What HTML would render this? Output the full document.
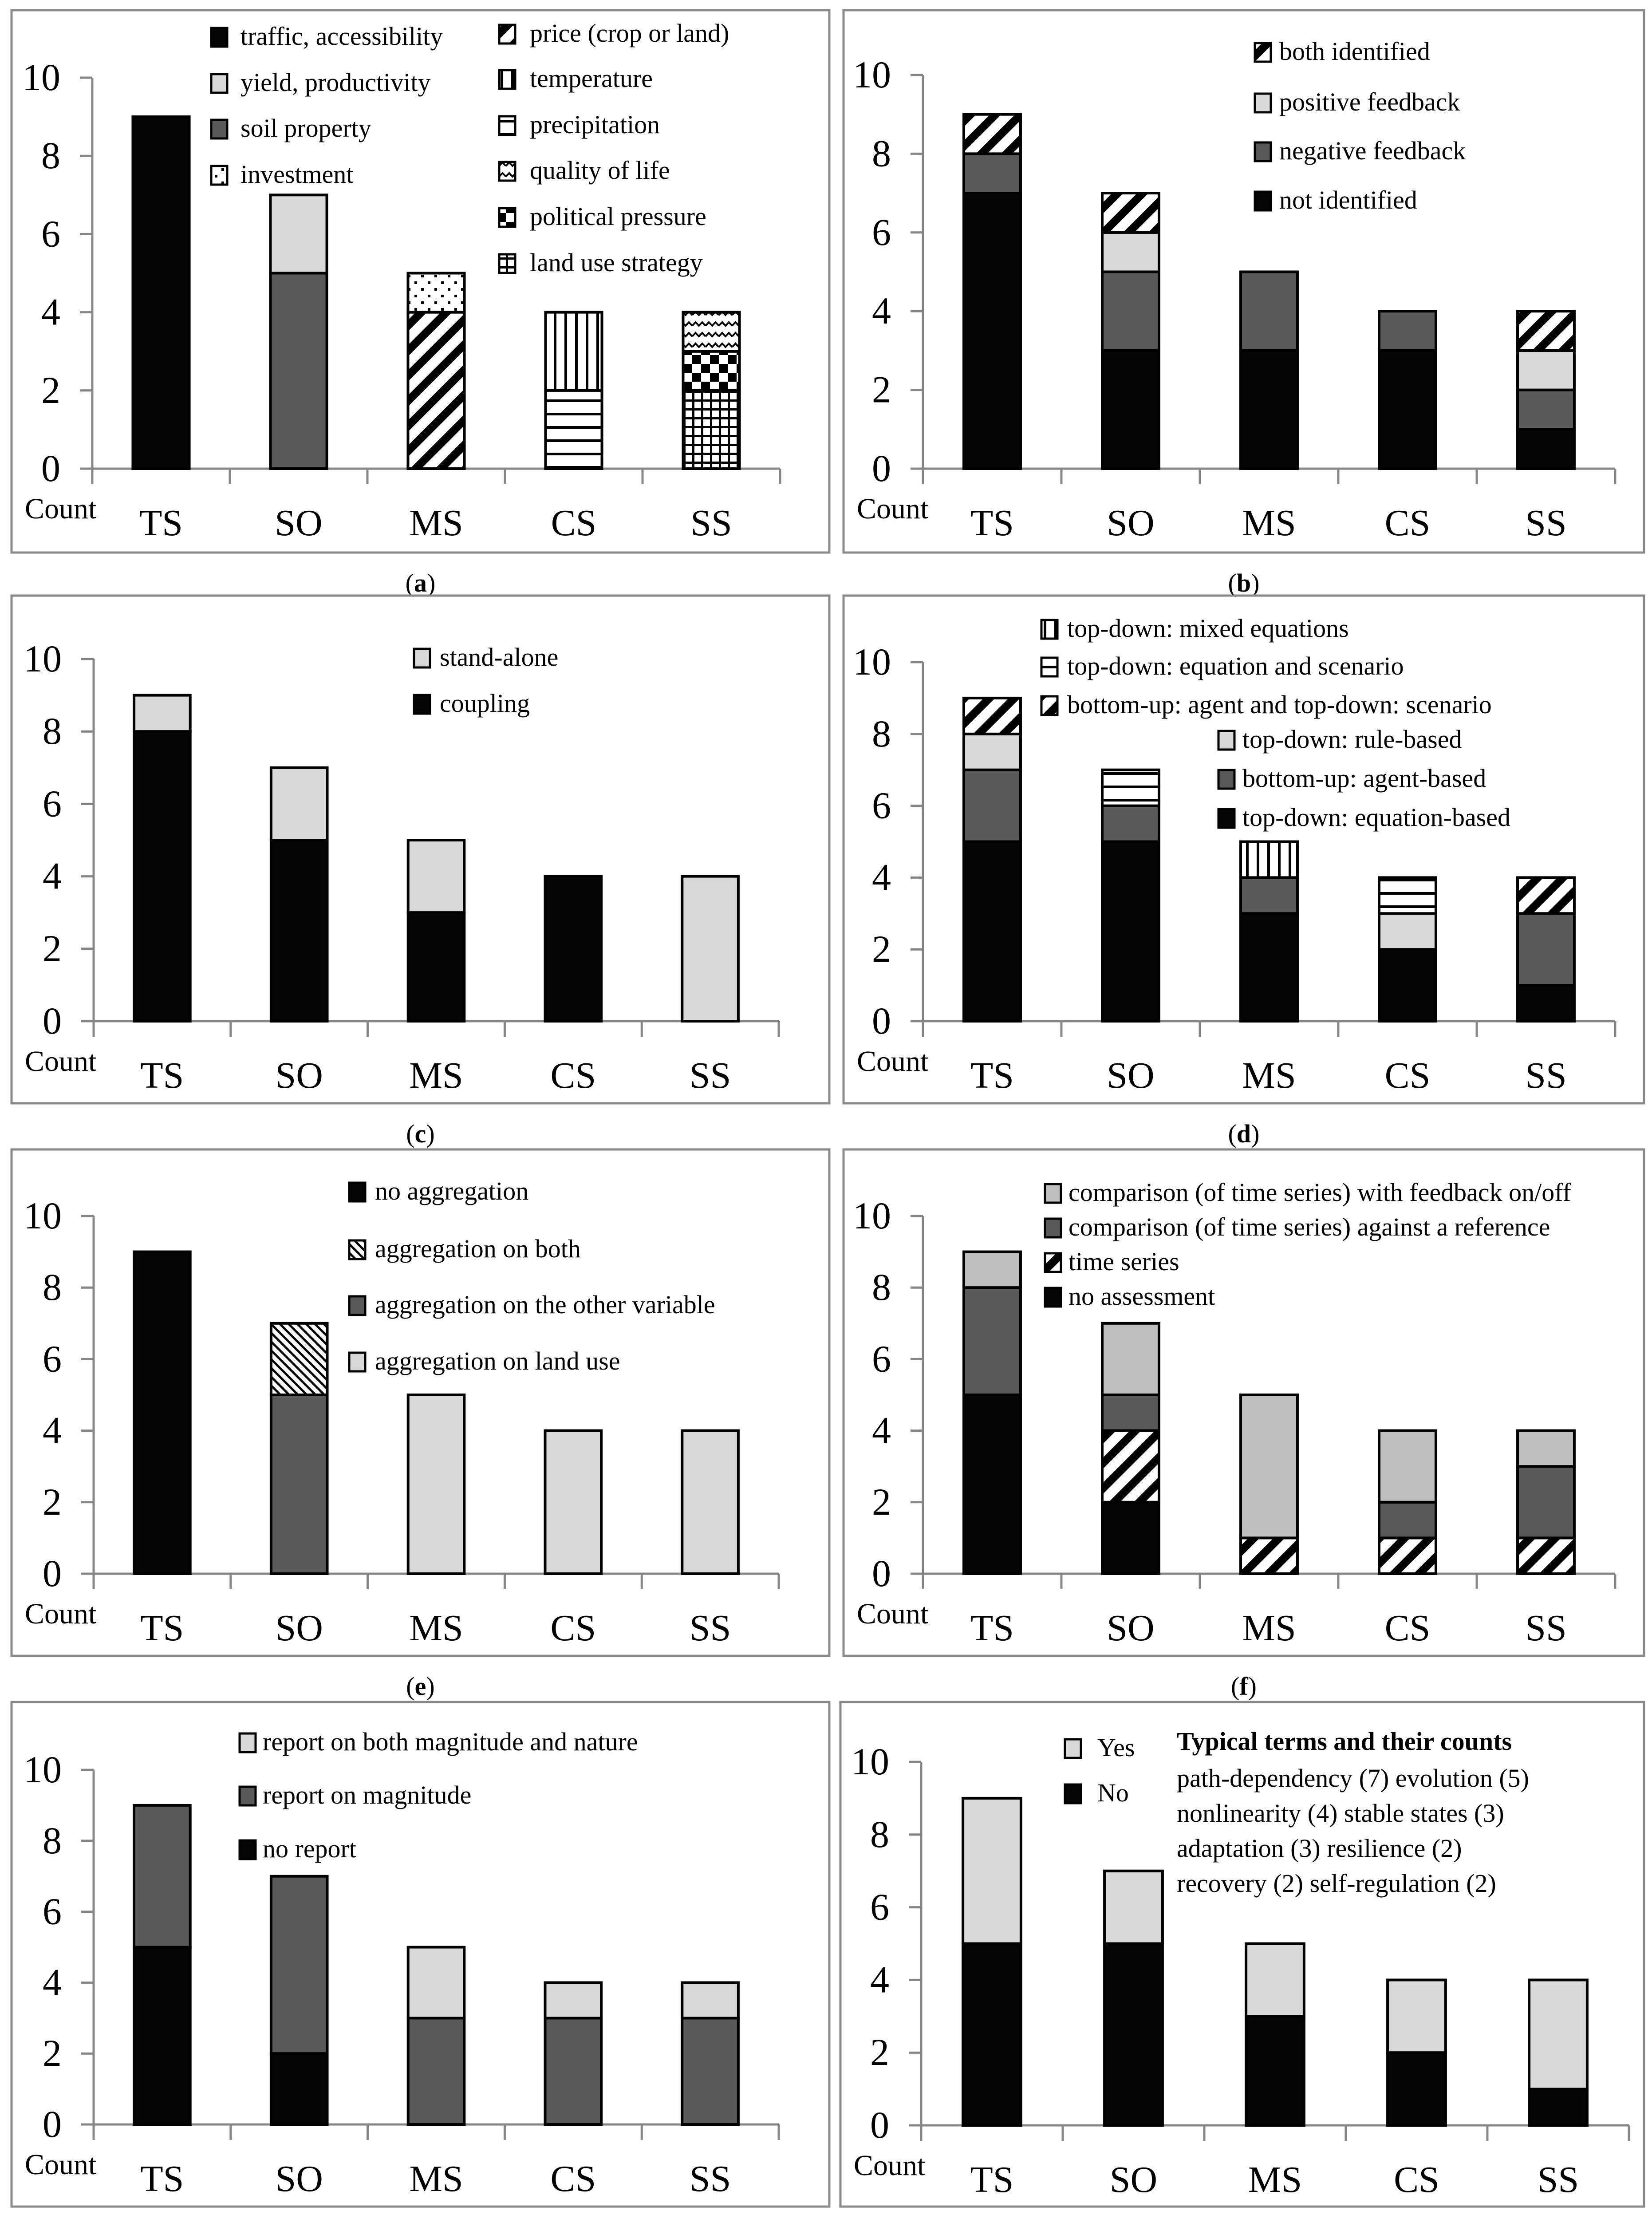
<!DOCTYPE html>
<html><head><meta charset="utf-8"><style>
html,body{margin:0;padding:0;background:#fff;width:3723px;height:5085px;overflow:hidden}
svg{display:block}
text{font-family:"Liberation Serif",serif;fill:#000}
</style></head><body>
<svg id="fig" width="3723" height="5085" viewBox="0 0 3723 5085" xmlns="http://www.w3.org/2000/svg">
<defs>
<pattern id="p-diag" patternUnits="userSpaceOnUse" width="40" height="40" patternTransform="rotate(45)"><rect width="40" height="40" fill="#fff"/><rect width="18" height="40" fill="#000"/></pattern>
<pattern id="p-vert" patternUnits="userSpaceOnUse" width="24" height="24"><rect width="24" height="24" fill="#fff"/><rect width="6" height="24" fill="#000"/></pattern>
<pattern id="p-horiz" patternUnits="userSpaceOnUse" width="30" height="30"><rect width="30" height="30" fill="#fff"/><rect width="30" height="6" fill="#000"/></pattern>
<pattern id="p-dots" patternUnits="userSpaceOnUse" width="30" height="30"><rect width="30" height="30" fill="#fff"/><rect x="4" y="4" width="6" height="6" fill="#000"/><rect x="19" y="19" width="6" height="6" fill="#000"/></pattern>
<pattern id="p-wave" patternUnits="userSpaceOnUse" width="30" height="24"><rect width="30" height="24" fill="#fff"/><path d="M0 14 L7.5 6 L15 14 L22.5 6 L30 14" stroke="#000" stroke-width="4" fill="none"/></pattern>
<pattern id="p-check" patternUnits="userSpaceOnUse" width="40" height="40"><rect width="40" height="40" fill="#fff"/><rect width="20" height="20" fill="#000"/><rect x="20" y="20" width="20" height="20" fill="#000"/></pattern>
<pattern id="p-grid" patternUnits="userSpaceOnUse" width="20" height="20"><rect width="20" height="20" fill="#fff"/><rect width="5" height="20" fill="#000"/><rect width="20" height="5" fill="#000"/></pattern>
<pattern id="p-hatch" patternUnits="userSpaceOnUse" width="14" height="14" patternTransform="rotate(-45)"><rect width="14" height="14" fill="#fff"/><rect width="5" height="14" fill="#000"/></pattern>
</defs>
</svg>
<script>
const NS="http://www.w3.org/2000/svg";
const svg=document.getElementById('fig');
const categories=["TS","SO","MS","CS","SS"];
const yTicks=[0,2,4,6,8,10];
// series values per panel (stack order bottom->top)
const aTraffic=[9,0,0,0,0];
const aSoil=[0,5,0,0,0];
const aYield=[0,2,0,0,0];
const aPrice=[0,0,4,0,0];
const aInvest=[0,0,1,0,0];
const aPrecip=[0,0,0,2,0];
const aTemp=[0,0,0,2,0];
const aLandUse=[0,0,0,0,2];
const aPolitical=[0,0,0,0,1];
const aQuality=[0,0,0,0,1];
const bNot=[7,3,3,3,1];
const bNeg=[1,2,2,1,1];
const bPos=[0,1,0,0,1];
const bBoth=[1,1,0,0,1];
const cCoupling=[8,5,3,4,0];
const cStand=[1,2,2,0,4];
const dEq=[5,5,3,2,1];
const dAgent=[2,1,1,0,2];
const dRule=[1,0,0,1,0];
const dBuTd=[1,0,0,0,1];
const dEqScen=[0,1,0,1,0];
const dMixed=[0,0,1,0,0];
const eNone=[9,0,0,0,0];
const eOther=[0,5,0,0,0];
const eBoth=[0,2,0,0,0];
const eLand=[0,0,5,4,4];
const fNone=[5,2,0,0,0];
const fTs=[0,2,1,1,1];
const fRef=[3,1,0,1,2];
const fOnOff=[1,2,4,2,1];
const gNone=[5,2,0,0,0];
const gMag=[4,5,3,3,3];
const gBoth=[0,0,2,1,1];
const hNo=[5,5,3,2,1];
const hYes=[4,2,2,2,3];

const BLACK="#050505",LG="#d9d9d9",DG="#595959",MG="#bfbfbf";
function el(tag,attrs,parent){const e=document.createElementNS(NS,tag);for(const k in attrs)e.setAttribute(k,attrs[k]);(parent||svg).appendChild(e);return e;}
function txt(s,x,y,size,parent,anchor,weight){const t=el('text',{x:x,y:y,'font-size':size,'text-anchor':anchor||'start','font-weight':weight||'normal'},parent);t.textContent=s;return t;}

const panels=[
 {id:'a',fx:26,fy:23,fw:1843,fh:1222,ax:208,axEnd:1758,y0:1056,y10:175,
  series:[[aTraffic,BLACK],[aSoil,DG],[aYield,LG],[aPrice,'url(#p-diag)'],[aInvest,'url(#p-dots)'],[aPrecip,'url(#p-horiz)'],[aTemp,'url(#p-vert)'],[aLandUse,'url(#p-grid)'],[aPolitical,'url(#p-check)'],[aQuality,'url(#p-wave)']],
  legend:[[476,542,83,"traffic, accessibility",BLACK],[476,542,187,"yield, productivity",LG],[476,542,290,"soil property",DG],[476,542,394,"investment",'url(#p-dots)'],
   [1125,1194,76,"price (crop or land)",'url(#p-diag)'],[1125,1194,178,"temperature",'url(#p-vert)'],[1125,1194,282,"precipitation",'url(#p-horiz)'],[1125,1194,385,"quality of life",'url(#p-wave)'],[1125,1194,489,"political pressure",'url(#p-check)'],[1125,1194,593,"land use strategy",'url(#p-grid)']]},
 {id:'b',fx:1901,fy:23,fw:1804,fh:1222,ax:2080,axEnd:3640,y0:1056,y10:169,
  series:[[bNot,BLACK],[bNeg,DG],[bPos,LG],[bBoth,'url(#p-diag)']],
  legend:[[2828,2883,117,"both identified",'url(#p-diag)'],[2828,2883,231,"positive feedback",LG],[2828,2883,341,"negative feedback",DG],[2828,2883,452,"not identified",BLACK]]},
 {id:'c',fx:26,fy:1342,fw:1843,fh:1144,ax:211,axEnd:1755,y0:2301,y10:1485,
  series:[[cCoupling,BLACK],[cStand,LG]],
  legend:[[933,991,1482,"stand-alone",LG],[933,991,1586,"coupling",BLACK]]},
 {id:'d',fx:1901,fy:1342,fw:1804,fh:1144,ax:2080,axEnd:3640,y0:2301,y10:1492,
  series:[[dEq,BLACK],[dAgent,DG],[dRule,LG],[dBuTd,'url(#p-diag)'],[dEqScen,'url(#p-horiz)'],[dMixed,'url(#p-vert)']],
  legend:[[2347,2405,1417,"top-down: mixed equations",'url(#p-vert)'],[2347,2405,1502,"top-down: equation and scenario",'url(#p-horiz)'],[2347,2405,1589,"bottom-up: agent and top-down: scenario",'url(#p-diag)'],[2746,2800,1667,"top-down: rule-based",LG],[2746,2800,1755,"bottom-up: agent-based",DG],[2746,2800,1843,"top-down: equation-based",BLACK]]},
 {id:'e',fx:26,fy:2590,fw:1843,fh:1141,ax:211,axEnd:1755,y0:3546,y10:2740,
  series:[[eNone,BLACK],[eOther,DG],[eBoth,'url(#p-hatch)'],[eLand,LG]],
  legend:[[787,845,2685,"no aggregation",BLACK],[787,845,2815,"aggregation on both",'url(#p-hatch)'],[787,845,2941,"aggregation on the other variable",DG],[787,845,3068,"aggregation on land use",LG]]},
 {id:'f',fx:1901,fy:2590,fw:1804,fh:1141,ax:2080,axEnd:3640,y0:3546,y10:2740,
  series:[[fNone,BLACK],[fTs,'url(#p-diag)'],[fRef,DG],[fOnOff,MG]],
  legend:[[2355,2408,2688,"comparison (of time series) with feedback on/off",MG],[2355,2408,2766,"comparison (of time series) against a reference",DG],[2355,2408,2844,"time series",'url(#p-diag)'],[2355,2408,2922,"no assessment",BLACK]]},
 {id:'g',fx:26,fy:3835,fw:1843,fh:1137,ax:211,axEnd:1755,y0:4787,y10:3988,
  series:[[gNone,BLACK],[gMag,DG],[gBoth,LG]],
  legend:[[540,592,3926,"report on both magnitude and nature",LG],[540,592,4046,"report on magnitude",DG],[540,592,4167,"no report",BLACK]]},
 {id:'h',fx:1894,fy:3835,fw:1811,fh:1137,ax:2076,axEnd:3671,y0:4789,y10:3970,
  series:[[hNo,BLACK],[hYes,LG]],
  legend:[[2400,2473,3939,"Yes",LG],[2400,2473,4041,"No",BLACK]]}
];

panels.forEach(p=>{
  const g=el('g',{});
  
  
  const fr=el('rect',{x:p.fx,y:p.fy,width:p.fw,height:p.fh,fill:'none',stroke:'#8a8a8a','stroke-width':5},g);
  
  
  const ys=v=>p.y0-(p.y0-p.y10)*v/10;
  const step=(p.axEnd-p.ax)/categories.length;
  const xc=i=>p.ax+step*(i+0.5);
  const bw=step*0.41;
  const ya=el('line',{x1:p.ax,y1:p.y10,x2:p.ax,y2:p.y0+30,stroke:'#868686','stroke-width':5},g);
  
  
  yTicks.forEach(t=>{
    el('line',{x1:p.ax-28,y1:ys(t),x2:p.ax,y2:ys(t),stroke:'#868686','stroke-width':5},g);
    const tl=txt(String(t),p.ax-72,ys(t)+28,86,g,'end');
    
    
  });
  const xa=el('line',{x1:p.ax-28,y1:p.y0,x2:p.axEnd,y2:p.y0,stroke:'#868686','stroke-width':5},g);
  
  
  for(let i=0;i<=categories.length;i++){
    el('line',{x1:p.ax+step*i,y1:p.y0,x2:p.ax+step*i,y2:p.y0+35,stroke:'#868686','stroke-width':5},g);
  }
  categories.forEach((c,i)=>{
    const cl=txt(c,xc(i),p.y0+150,84,g,'middle');
    
    
  });
  const cnt=txt("Count",p.fx+30,p.y0+112,66,g);
  
  
  categories.forEach((c,i)=>{
    let base=0;
    p.series.forEach(([arr,fill])=>{
      const v=arr[i]; if(!v) return;
      const r=el('rect',{x:xc(i)-bw/2,y:ys(base+v),width:bw,height:ys(base)-ys(base+v),fill:fill,stroke:'#000','stroke-width':6},g);
      
      
      base+=v;
    });
  });
  p.legend.forEach(([sx,tx,cy,label,fill])=>{
    const lg=el('g',{},g);
    
    
    el('rect',{x:sx,y:cy-20,width:36,height:42,fill:fill,stroke:'#000','stroke-width':5},lg);
    txt(label,tx,cy+18,58,lg);
  });
  const pl=el('text',{x:p.fx+p.fw/2,y:p.fy+p.fh+88,'font-size':58,'text-anchor':'middle'},svg);
  
  
  pl.innerHTML='(<tspan font-weight="bold">'+p.id+'</tspan>)';
});
const terms=[["Typical terms and their counts",3923,'bold'],["path-dependency (7) evolution (5)",4006,'normal'],["nonlinearity (4) stable states (3)",4085,'normal'],["adaptation (3) resilience (2)",4164,'normal'],["recovery (2) self-regulation (2)",4243,'normal']];
terms.forEach(([s,y,w])=>{
  const t=txt(s,2652,y+20,58,svg,'start',w);
  
  
});
</script>
</body></html>
